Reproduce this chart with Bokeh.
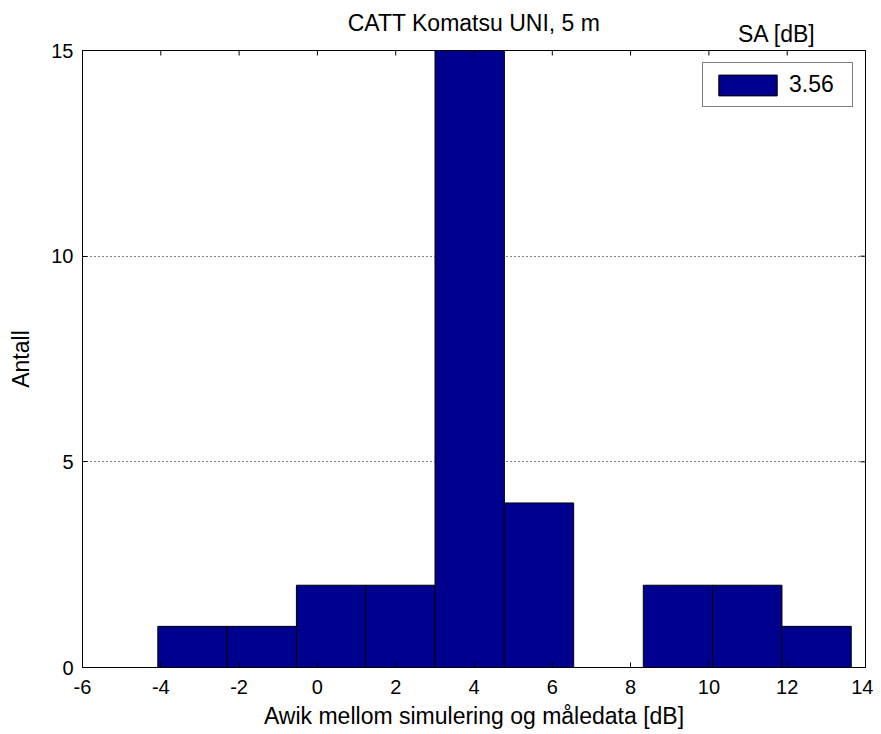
import math
from bokeh.plotting import figure
from bokeh.models import (Range1d, FixedTicker, LinearAxis, Legend, LegendItem,
                          ColumnDataSource, Grid)
from bokeh.embed import file_html
from bokeh.resources import INLINE

# ---- data ----
bin_centers = [-3.19, -1.42, 0.35, 2.12, 3.89, 5.66, 7.44, 9.21, 10.98, 12.75]
bin_width = 1.772
counts = [1, 1, 2, 2, 15, 4, 0, 2, 2, 1]
x_ticks = [-6, -4, -2, 0, 2, 4, 6, 8, 10, 12, 14]
y_ticks = [0, 5, 10, 15]
grid_ticks = [5, 10]
legend_label = "3.56"
legend_title = "SA [dB]"
legend_title_x = 11.74
title_text = "CATT Komatsu UNI, 5 m"
x_label = "Awik mellom simulering og måledata [dB]"
y_label = "Antall"

FONT = "Liberation Sans"
TICK_FS = "20px"
LAB_FS = "23px"
BAR = "#00008F"

src = ColumnDataSource(dict(
    left=[c - bin_width / 2 for c in bin_centers],
    right=[c + bin_width / 2 for c in bin_centers],
    top=counts,
    bottom=[0] * len(counts),
))

p = figure(width=873, height=731, output_backend="svg", toolbar_location=None,
           x_range=Range1d(-6, 14), y_range=Range1d(0, 15),
           min_border_left=82, min_border_right=8, min_border_top=50,
           min_border_bottom=64, x_axis_location=None, y_axis_location=None)
p.background_fill_color = "white"
p.border_fill_color = "white"
p.outline_line_color = "black"
p.outline_line_width = 1

r = p.quad(left="left", right="right", top="top", bottom="bottom", source=src,
           fill_color=BAR, line_color="black", line_width=1)

def style(ax, ticks):
    ax.ticker = FixedTicker(ticks=ticks)
    ax.major_tick_in = 5
    ax.major_tick_out = 0
    ax.minor_tick_in = 0
    ax.minor_tick_out = 0
    ax.axis_line_color = "black"
    ax.major_tick_line_color = "black"
    ax.major_label_text_font = FONT
    ax.major_label_text_font_size = TICK_FS
    ax.major_label_text_color = "black"
    ax.axis_label_text_font = FONT
    ax.axis_label_text_font_size = LAB_FS
    ax.axis_label_text_font_style = "normal"
    ax.axis_label_text_color = "black"
    ax.major_label_overrides = {t: str(t) for t in ticks}

xax = LinearAxis(axis_label=x_label)
style(xax, x_ticks)
xax.major_label_standoff = 12
xax.axis_label_standoff = 6
p.add_layout(xax, "below")

yax = LinearAxis(axis_label=y_label)
style(yax, y_ticks)
yax.major_label_standoff = 9
yax.axis_label_standoff = 14
p.add_layout(yax, "left")

# top axis: carries the legend heading as its single label and the title as its axis label
tax = LinearAxis(axis_label=title_text)
style(tax, [legend_title_x])
tax.major_tick_in = 0
tax.major_label_overrides = {legend_title_x: legend_title}
tax.major_label_text_font_size = LAB_FS
tax.major_label_standoff = 4
tax.axis_label_standoff = -18
p.add_layout(tax, "above")

# mirror ticks on top and right frame edges
p.scatter(x=x_ticks, y=[15] * len(x_ticks), marker="dash", size=10, angle=math.pi / 2,
          line_color="black", line_width=1)
p.scatter(x=[14] * len(y_ticks), y=y_ticks, marker="dash", size=10,
          line_color="black", line_width=1)

p.xgrid.grid_line_color = None
p.ygrid.grid_line_color = None
g = Grid(dimension=1, ticker=FixedTicker(ticks=grid_ticks), grid_line_color="black",
         grid_line_dash="1 3", grid_line_width=1)
p.add_layout(g)

legend = Legend(items=[LegendItem(label=legend_label, renderers=[r])],
                location="top_right", margin=12, padding=8,
                glyph_width=73, glyph_height=26, label_standoff=5, label_width=55,
                label_text_font=FONT, label_text_font_size=LAB_FS, label_text_color="black",
                border_line_color="black", border_line_width=1,
                background_fill_color="white", background_fill_alpha=1,
                spacing=0)
p.add_layout(legend, "center")

open("out.html", "w").write(file_html(p, INLINE))
